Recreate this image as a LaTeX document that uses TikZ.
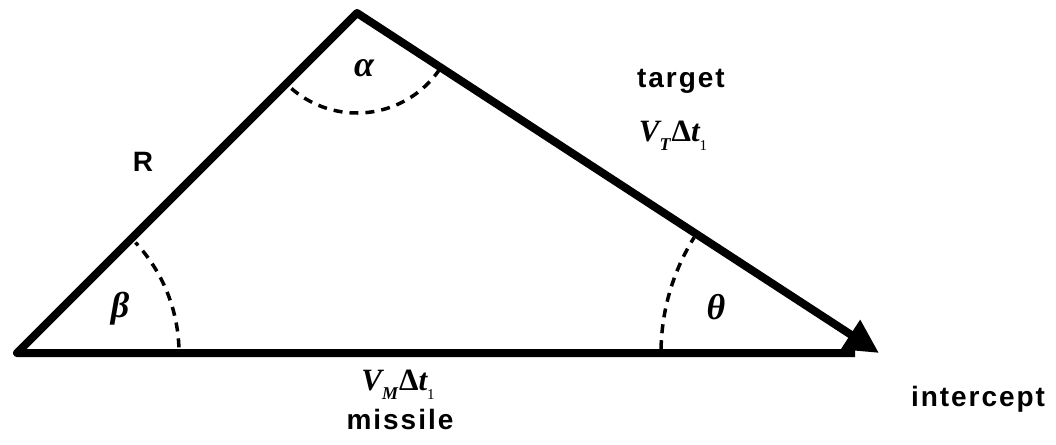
\documentclass[tikz,border=0pt]{standalone}
\usepackage{fontspec}
\setmainfont{Liberation Serif}
\newfontfamily\lblfont[LetterSpace=7]{Liberation Sans}
\usetikzlibrary{arrows.meta}
\newcommand{\vdt}[1]{{\bfseries\itshape V}\raisebox{-0.3em}{\fontsize{18pt}{18pt}\selectfont\bfseries\itshape #1}\kern1pt{\bfseries\upshape Δ}{\bfseries\itshape t}\raisebox{-0.3em}{\fontsize{15pt}{15pt}\selectfont 1}}
\tikzset{
  side/.style={line width=8pt, line join=round},
  anglearc/.style={line width=3.5pt, dash pattern=on 9pt off 7pt},
  word/.style={font=\lblfont\bfseries\fontsize{28pt}{32pt}\selectfont, inner sep=0pt},
  mathlbl/.style={font=\fontsize{31pt}{34pt}\selectfont, inner sep=0pt},
  greek/.style={font=\bfseries\itshape\fontsize{36pt}{40pt}\selectfont, inner sep=0pt}
}
\begin{document}
\begin{tikzpicture}[x=1pt,y=1pt]
\useasboundingbox[fill=white] (0,0) rectangle (1056,-444);
\coordinate (A) at (17,-353);
\coordinate (B) at (357,-13);
\coordinate (C) at (879,-353);
\coordinate (D) at (855,-353);
% sides
\draw[side, -{Triangle[length=34pt,width=33pt]}] (D) -- (A) -- (B) -- (C);
% angle arcs
\draw[anglearc] ([shift={(229:100)}]B) arc[start angle=229, end angle=325, radius=100];
\draw[anglearc] ([shift={(2:162)}]A) arc[start angle=2, end angle=43, radius=162];
\draw[anglearc] ([shift={(179:218)}]C) arc[start angle=179, end angle=148, radius=218];
% labels
\node[greek] (alpha) at (364,-68) {α};
\node[greek] (beta) at (120,-309) {β};
\node[greek] (theta) at (716,-307) {θ};
\node[word, anchor=base] (R) at (143,-171) {R};
\node[word, anchor=base] (target) at (681,-87) {target};
\node[mathlbl, anchor=base] (vt) at (673,-141) {\vdt{T}};
\node[mathlbl, anchor=base] (vm) at (398,-390) {\vdt{M}};
\node[word, anchor=base] (missile) at (400,-429) {missile};
\node[word, anchor=base] (intercept) at (978,-406) {intercept};
\end{tikzpicture}
\end{document}
